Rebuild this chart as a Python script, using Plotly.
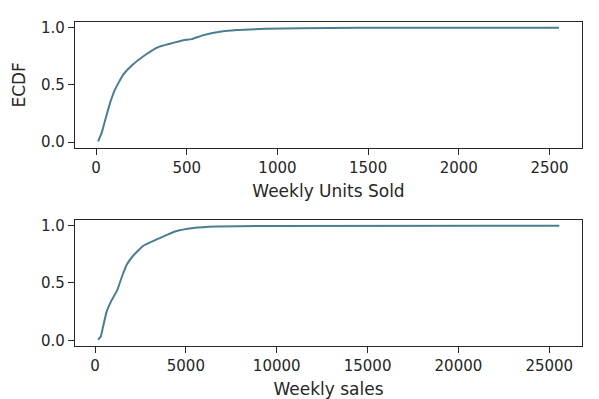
import plotly.graph_objects as go

# Top panel: ECDF of weekly units sold
units_x = [11, 31, 59, 77, 105, 150, 197, 261, 343, 408, 481, 527, 592, 683, 776, 941, 1125, 1455, 2552]
units_ecdf = [0.005, 0.08, 0.24, 0.34, 0.46, 0.59, 0.67, 0.75, 0.83, 0.86, 0.89, 0.90, 0.935, 0.965, 0.98, 0.99, 0.995, 0.999, 1.0]

# Bottom panel: ECDF of weekly sales
sales_x = [168, 314, 459, 642, 918, 1230, 1469, 1745, 2111, 2662, 3397, 4406, 5413, 6700, 9000, 25550]
sales_ecdf = [0.005, 0.03, 0.13, 0.25, 0.35, 0.44, 0.55, 0.66, 0.74, 0.825, 0.88, 0.95, 0.98, 0.993, 0.998, 1.0]

units_ticks = [0, 500, 1000, 1500, 2000, 2500]
sales_ticks = [0, 5000, 10000, 15000, 20000, 25000]
y_ticks = [0.0, 0.5, 1.0]

LINE = "#4b7d90"
DARK = "#262626"
FONT = "DejaVu Sans"

fig = go.Figure()
fig.add_trace(go.Scatter(x=units_x, y=units_ecdf, mode="lines",
                         line=dict(color=LINE, width=2, shape="spline", smoothing=0.4),
                         xaxis="x", yaxis="y", showlegend=False))
fig.add_trace(go.Scatter(x=sales_x, y=sales_ecdf, mode="lines",
                         line=dict(color=LINE, width=2, shape="spline", smoothing=0.4),
                         xaxis="x2", yaxis="y2", showlegend=False))

axis_common = dict(showline=True, linecolor=DARK, linewidth=1.3, mirror=True,
                   ticks="outside", ticklen=6, tickwidth=1.3, tickcolor=DARK,
                   showgrid=False, zeroline=False, automargin=False,
                   tickfont=dict(family=FONT, size=15, color=DARK))

fig.update_layout(
    width=591, height=391,
    margin=dict(l=67, r=17, t=14, b=53),
    plot_bgcolor="white", paper_bgcolor="white",
    font=dict(family=FONT, color=DARK),
    xaxis=dict(domain=[0, 1], anchor="y", range=[-116, 2679], tickvals=units_ticks,
               tickformat="d",
               title=dict(text="Weekly Units Sold", font=dict(family=FONT, size=17, color=DARK), standoff=9),
               **axis_common),
    yaxis=dict(domain=[0.612, 1.0], anchor="x", range=[-0.05, 1.05], tickvals=y_ticks,
               tickformat=".1f",
               title=dict(text="ECDF", font=dict(family=FONT, size=17, color=DARK), standoff=11),
               **axis_common),
    xaxis2=dict(domain=[0, 1], anchor="y2", range=[-1101, 26800], tickvals=sales_ticks,
                tickformat="d",
                title=dict(text="Weekly sales", font=dict(family=FONT, size=17, color=DARK), standoff=9),
                **axis_common),
    yaxis2=dict(domain=[0.0, 0.389], anchor="x2", range=[-0.05, 1.05], tickvals=y_ticks,
                tickformat=".1f", **axis_common),
)

fig.write_html("out.html")
